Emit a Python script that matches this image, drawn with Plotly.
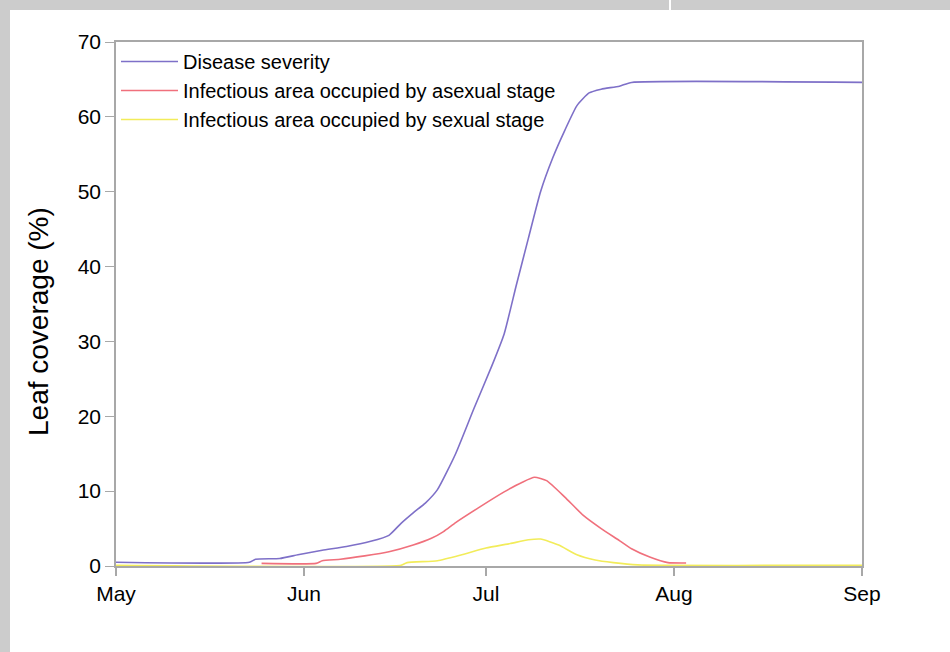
import plotly.graph_objects as go

# ---- data ----
sev_dates = ["2000-05-01", "2000-05-23", "2000-05-24", "2000-05-28", "2000-05-31", "2000-06-04",
             "2000-06-08", "2000-06-12", "2000-06-15", "2000-06-17", "2000-06-19", "2000-06-21",
             "2000-06-23", "2000-06-26", "2000-06-29", "2000-07-02", "2000-07-04", "2000-07-06",
             "2000-07-08", "2000-07-10", "2000-07-12", "2000-07-14", "2000-07-16", "2000-07-18",
             "2000-07-20", "2000-07-23", "2000-07-25", "2000-09-01"]
sev_vals = [0.5, 0.5, 0.9, 1.0, 1.5, 2.1,
            2.6, 3.3, 4.1, 5.7, 7.1, 8.4,
            10.2, 15.0, 21.0, 26.8, 31.0, 37.5,
            43.8, 50.0, 54.5, 58.2, 61.5, 63.2,
            63.7, 64.1, 64.6, 64.6]

asex_dates = ["2000-05-25", "2000-06-03", "2000-06-04", "2000-06-07", "2000-06-11", "2000-06-15",
              "2000-06-19", "2000-06-22", "2000-06-24", "2000-06-26", "2000-06-30", "2000-07-04",
              "2000-07-07", "2000-07-09", "2000-07-11", "2000-07-14", "2000-07-17", "2000-07-20",
              "2000-07-23", "2000-07-25", "2000-07-28", "2000-07-31", "2000-08-03"]
asex_vals = [0.35, 0.35, 0.7, 0.9, 1.35, 1.9,
             2.8, 3.7, 4.6, 5.8, 7.9, 9.9,
             11.2, 11.85, 11.4, 9.2, 6.8, 5.0,
             3.4, 2.3, 1.2, 0.45, 0.4]

sex_dates = ["2000-05-01", "2000-06-17", "2000-06-18", "2000-06-23", "2000-06-27", "2000-07-01",
             "2000-07-05", "2000-07-08", "2000-07-10", "2000-07-13", "2000-07-16", "2000-07-19",
             "2000-07-22", "2000-07-26", "2000-09-01"]
sex_vals = [0.1, 0.1, 0.45, 0.7, 1.5, 2.4,
            3.0, 3.5, 3.6, 2.8, 1.5, 0.8,
            0.45, 0.15, 0.1]

series_names = ["Disease severity",
                "Infectious area occupied by asexual stage",
                "Infectious area occupied by sexual stage"]
series_colors = ["#7e70c8", "#f0707c", "#f2ec5a"]

month_ticks = ["2000-05-01", "2000-06-01", "2000-07-01", "2000-08-01", "2000-09-01"]
month_labels = ["May", "Jun", "Jul", "Aug", "Sep"]
y_ticks = [0, 10, 20, 30, 40, 50, 60, 70]
y_title = "Leaf coverage (%)"

FONT = "Liberation Sans, Arial, sans-serif"

fig = go.Figure()
for xs, ys, name, col in zip([sev_dates, asex_dates, sex_dates],
                             [sev_vals, asex_vals, sex_vals],
                             series_names, series_colors):
    fig.add_trace(go.Scatter(x=xs, y=ys, mode="lines", name=name,
                             line=dict(color=col, width=1.6, shape="spline", smoothing=0.5)))

# plot area in pixels: x 116..862, y 42..566
W, H = 950, 652
L, R, T, B = 116, 862, 42, 566
pw, ph = R - L, B - T

def px_x(p):
    return (p - L) / pw

def px_y(p):
    return (B - p) / ph

shapes = [
    # left gray strip
    dict(type="rect", xref="paper", yref="paper", x0=px_x(0), x1=px_x(10), y0=px_y(H), y1=px_y(0),
         fillcolor="#cccccc", line=dict(width=0), layer="below"),
    # top gray strip
    dict(type="rect", xref="paper", yref="paper", x0=px_x(0), x1=px_x(W), y0=px_y(10), y1=px_y(0),
         fillcolor="#cccccc", line=dict(width=0), layer="below"),
    # thin white separator in the top strip
    dict(type="rect", xref="paper", yref="paper", x0=px_x(669), x1=px_x(671), y0=px_y(10), y1=px_y(0),
         fillcolor="#ffffff", line=dict(width=0), layer="below"),
]

annotations = [
    dict(text=y_title, xref="paper", yref="paper", x=px_x(38), y=px_y(322),
         xanchor="center", yanchor="middle", textangle=-90, showarrow=False,
         font=dict(family=FONT, size=28, color="#000000")),
]

fig.update_layout(
    width=W, height=H,
    margin=dict(l=L, r=W - R, t=T, b=H - B, pad=0),
    paper_bgcolor="#ffffff", plot_bgcolor="#ffffff",
    font=dict(family=FONT, color="#000000", size=21),
    shapes=shapes,
    annotations=annotations,
    showlegend=True,
    legend=dict(x=0.0, y=1.0, xanchor="left", yanchor="top",
                bgcolor="rgba(0,0,0,0)", borderwidth=0,
                font=dict(family=FONT, size=20, color="#000000"),
                itemwidth=57, tracegroupgap=0),
    xaxis=dict(type="date", range=["2000-05-01", "2000-09-01"],
               tickvals=month_ticks, ticktext=month_labels,
               showgrid=False, zeroline=False,
               showline=True, linecolor="#a8a8a8", linewidth=2, mirror=True,
               ticks="outside", ticklen=8, tickcolor="#a8a8a8", tickwidth=1.5,
               tickfont=dict(family=FONT, size=21, color="#000000")),
    yaxis=dict(range=[0, 70], tickvals=y_ticks,
               showgrid=False, zeroline=False,
               showline=True, linecolor="#a8a8a8", linewidth=1.5, mirror=True,
               ticks="outside", ticklen=9, tickcolor="#a8a8a8", tickwidth=1,
               tickfont=dict(family=FONT, size=21, color="#000000")),
)

fig.write_html("out.html", config={"displayModeBar": False},
               post_script="document.body.style.margin='0px';document.body.style.overflow='hidden';")
